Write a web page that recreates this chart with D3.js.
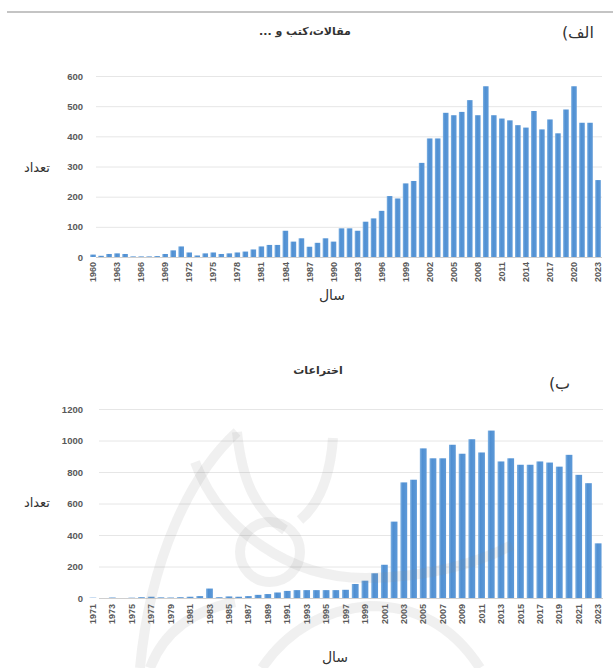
<!DOCTYPE html>
<html>
<head>
<meta charset="utf-8">
<script src="https://cdn.jsdelivr.net/npm/d3@7"></script>
<style>
    body { margin: 0; background: #fff; }
    .tick text { font-family: "Liberation Sans", Arial, sans-serif; fill: #595959; }
    .fa { font-family: "DejaVu Sans", sans-serif; fill: #333; }
</style>
</head>
<body>
<div id="chart"></div>
<script>
// (الف) papers, books ... per year
var yearsA = d3.range(1960, 2024);
var countsA = [8, 4, 10, 12, 10, 2, 2, 2, 3, 10,
    22, 35, 15, 5, 12, 15, 10, 12, 15, 18,
    25, 35, 40, 40, 87, 51, 62, 34, 47, 62,
    51, 95, 95, 87, 117, 128, 153, 202, 194, 244,
    252, 312, 393, 393, 478, 470, 481, 520, 470, 566,
    470, 459, 453, 437, 429, 484, 423, 456, 410, 489,
    566, 445, 445, 255];
var yTicksA = [0, 100, 200, 300, 400, 500, 600];
var xTicksA = d3.range(1960, 2024, 3);

// (ب) inventions per year
var yearsB = d3.range(1971, 2024);
var countsB = [2, 0, 3, 0, 2, 5, 8, 4, 3, 5,
    8, 12, 60, 5, 10, 8, 12, 20, 25, 35,
    45, 50, 50, 50, 50, 50, 52, 89, 110, 157,
    211, 485, 734, 751, 950, 887, 887, 973, 916, 1008,
    924, 1063, 867, 887, 846, 846, 867, 860, 834, 909,
    782, 729, 347];
var yTicksB = [0, 200, 400, 600, 800, 1000, 1200];
var xTicksB = d3.range(1971, 2024, 2);

/*
 * YearBarVis - one excel-like yearly bar chart
 */
YearBarVis = function (_svg, _years, _counts, _config) {
    this.svg = _svg;
    this.years = _years;
    this.counts = _counts;
    this.config = _config;

    this.initVis();
}

YearBarVis.prototype.initVis = function () {
    var vis = this;
    var c = vis.config;

    vis.g = vis.svg.append("g");

    vis.x = d3.scaleBand()
        .domain(vis.years)
        .range([c.left, c.right])
        .paddingInner(c.pad)
        .paddingOuter(c.pad / 2);

    vis.y = d3.scaleLinear()
        .domain([0, c.yMax])
        .range([c.bottom, c.top]);

    // grid lines
    var grid = vis.g.append("g")
        .attr("transform", "translate(" + c.gridLeft + ",0)")
        .call(d3.axisLeft(vis.y).tickValues(c.yTicks).tickSize(-(c.right - c.gridLeft)).tickFormat(""));
    grid.select(".domain").remove();
    grid.selectAll("line").attr("stroke", function (d) { return d == 0 ? "#cfcfcf" : "#e6e6e6"; });

    // y labels
    var yAxis = vis.g.append("g")
        .attr("transform", "translate(" + c.yLabelX + ",0)")
        .call(d3.axisLeft(vis.y).tickValues(c.yTicks).tickSize(0).tickPadding(0).tickFormat(d3.format("d")));
    yAxis.select(".domain").remove();
    yAxis.selectAll("text").attr("font-size", 9.5).attr("font-weight", "bold");

    vis.wrangleData();
}

YearBarVis.prototype.wrangleData = function () {
    var vis = this;
    vis.displayData = vis.years.map(function (yr, i) {
        return { year: yr, count: vis.counts[i] };
    });
    vis.updateVis();
}

YearBarVis.prototype.updateVis = function () {
    var vis = this;
    var c = vis.config;

    vis.g.selectAll(".bar")
        .data(vis.displayData)
        .enter().append("rect")
        .attr("class", "bar")
        .attr("x", function (d) { return vis.x(d.year); })
        .attr("width", vis.x.bandwidth())
        .attr("y", function (d) { return vis.y(d.count); })
        .attr("height", function (d) { return vis.y(0) - vis.y(d.count); })
        .attr("fill", "url(#barGrad)");

    // rotated year labels
    var xAxis = vis.g.append("g")
        .attr("transform", "translate(0," + c.bottom + ")")
        .call(d3.axisBottom(vis.x).tickValues(c.xTicks).tickSize(0));
    xAxis.select(".domain").remove();
    xAxis.selectAll("text")
        .attr("font-size", 9)
        .attr("font-weight", "bold")
        .attr("x", -c.xLabelGap)
        .attr("y", 0)
        .attr("dy", "0.35em")
        .attr("transform", "rotate(-90)")
        .style("text-anchor", "end");
}

var svg = d3.select("#chart").append("svg")
    .attr("width", 613)
    .attr("height", 668);

var grad = svg.append("defs").append("linearGradient")
    .attr("id", "barGrad").attr("x1", 0).attr("x2", 1).attr("y1", 0).attr("y2", 0);
grad.append("stop").attr("offset", "0%").attr("stop-color", "#7fb2e3");
grad.append("stop").attr("offset", "35%").attr("stop-color", "#4f8fd2");
grad.append("stop").attr("offset", "100%").attr("stop-color", "#5e9ad8");

// top rule
svg.append("line")
    .attr("x1", 7).attr("x2", 613).attr("y1", 12).attr("y2", 12)
    .attr("stroke", "#c4c4c4").attr("stroke-width", 2);

var chartA = new YearBarVis(svg, yearsA, countsA, {
    left: 89, right: 602, gridLeft: 96, top: 76, bottom: 257, yMax: 600,
    yTicks: yTicksA, xTicks: xTicksA, pad: 0.3, yLabelX: 83, xLabelGap: 5
});

var chartB = new YearBarVis(svg, yearsB, countsB, {
    left: 88, right: 603, gridLeft: 99, top: 409, bottom: 598, yMax: 1200,
    yTicks: yTicksB, xTicks: xTicksB, pad: 0.3, yLabelX: 83, xLabelGap: 6
});

// faint watermark (logo behind the lower chart)
var mark = svg.append("g")
    .attr("fill", "none")
    .attr("stroke", "#8a8a8a")
    .attr("stroke-opacity", 0.13)
    .attr("stroke-width", 10);
mark.append("path").attr("d", "M140,668 C150,560 190,475 237,432");
mark.append("path").attr("d", "M237,432 C242,480 255,510 285,530");
mark.append("path").attr("d", "M195,462 C220,530 290,578 365,578 C430,578 480,562 512,545");
mark.append("circle").attr("cx", 270).attr("cy", 552).attr("r", 30);
mark.append("path").attr("d", "M333,438 C330,480 318,505 300,520");
mark.append("path").attr("d", "M150,668 Q170,615 235,602");
mark.append("path").attr("d", "M262,668 Q300,612 370,606 Q440,606 480,668");

// texts
svg.append("text").attr("class", "fa")
    .attr("x", 305).attr("y", 35)
    .attr("text-anchor", "middle")
    .attr("direction", "rtl")
    .attr("font-size", 11).attr("font-weight", "bold")
    .text("مقالات،کتب و ...");

// panel letters: paren drawn on its own so it stays on the left
function panelLetter(x, y, word) {
    svg.append("text").attr("class", "fa")
        .attr("x", x).attr("y", y)
        .attr("font-size", 16)
        .text("(");
    svg.append("text").attr("class", "fa")
        .attr("x", x + 6).attr("y", y)
        .attr("font-size", 16)
        .text(word);
}
panelLetter(562, 38, "الف");
panelLetter(549, 389, "ب");

svg.append("text").attr("class", "fa")
    .attr("x", 50).attr("y", 172)
    .attr("text-anchor", "end")
    .attr("font-size", 13)
    .text("تعداد");

svg.append("text").attr("class", "fa")
    .attr("x", 332).attr("y", 300)
    .attr("text-anchor", "middle")
    .attr("font-size", 14)
    .text("سال");

svg.append("text").attr("class", "fa")
    .attr("x", 318).attr("y", 374)
    .attr("text-anchor", "middle")
    .attr("direction", "rtl")
    .attr("font-size", 11).attr("font-weight", "bold")
    .text("اختراعات");

svg.append("text").attr("class", "fa")
    .attr("x", 50).attr("y", 507)
    .attr("text-anchor", "end")
    .attr("font-size", 13)
    .text("تعداد");

svg.append("text").attr("class", "fa")
    .attr("x", 335).attr("y", 662)
    .attr("text-anchor", "middle")
    .attr("font-size", 14)
    .text("سال");
</script>
</body>
</html>
